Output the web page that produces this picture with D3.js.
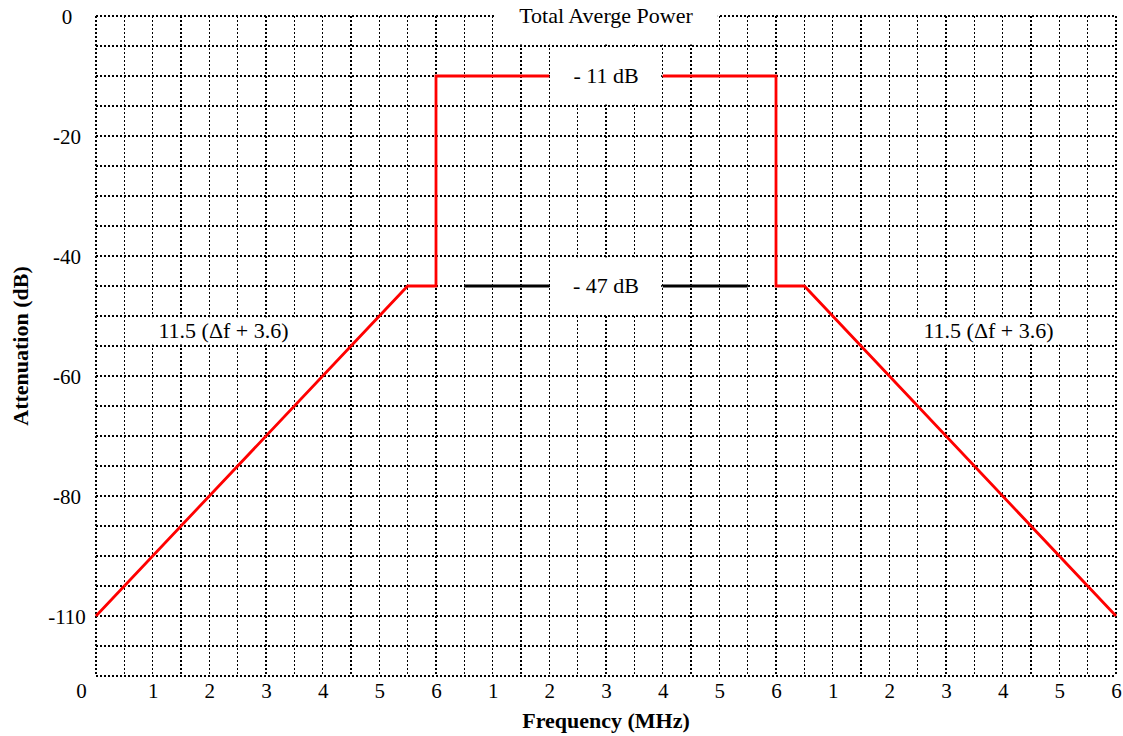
<!DOCTYPE html>
<html>
<head>
<meta charset="utf-8">
<script src="https://cdn.jsdelivr.net/npm/d3@7"></script>
<style>
  body { margin: 0; background: #fff; }
  svg text { font-family: "Liberation Serif", "DejaVu Serif", serif; fill: #000; }
</style>
</head>
<body>
<svg id="chart" width="1123" height="736" font-family="Liberation Serif, serif"></svg>
<script>
// --- datos del gráfico ---
const xTickValues = d3.range(0, 19);
const xTickLabels = ["0", "1", "2", "3", "4", "5", "6", "1", "2", "3", "4", "5", "6", "1", "2", "3", "4", "5", "6"];
const yTickValues = [0, -20, -40, -60, -80, -100];
const yTickLabels = ["0", "-20", "-40", "-60", "-80", "-110"];

// máscara roja (frecuencia, atenuación)
const maskLeft = [[0, -100], [5.5, -45], [6, -45], [6, -10], [8, -10]];
const maskRight = [[10, -10], [12, -10], [12, -45], [12.5, -45], [18, -100]];
// referencia negra a -47 dB
const refLeft = [[6.5, -45], [8, -45]];
const refRight = [[10, -45], [11.5, -45]];

// etiquetas con fondo blanco: [texto, x0, x1, y0, y1]
const labels = [
  ["Total Averge Power", 7, 11, 3, -5],
  ["- 11 dB", 8, 10, -5, -15],
  ["- 47 dB", 8, 10, -40, -50],
  ["11.5 (\u0394f + 3.6)", 0.5, 4, -50, -55],
  ["11.5 (\u0394f + 3.6)", 14, 17.5, -50, -55]
];

const svg = d3.select("#chart");
const margin = { left: 96, right: 1116, top: 16, bottom: 676 };

const x = d3.scaleLinear().domain([0, 18]).range([margin.left, margin.right]);
const y = d3.scaleLinear().domain([-110, 0]).range([margin.bottom, margin.top]);

// --- rejilla punteada ---
const grid = svg.append("g")
  .attr("stroke", "#000")
  .attr("stroke-width", 1.2)
  .attr("stroke-dasharray", "2,2")
  .attr("shape-rendering", "crispEdges");

grid.selectAll("line.v")
  .data(d3.range(0, 18.01, 0.5))
  .join("line")
  .attr("class", "v")
  .attr("x1", d => x(d)).attr("x2", d => x(d))
  .attr("y1", y(0)).attr("y2", y(-110));

grid.selectAll("line.h")
  .data(d3.range(0, -110.01, -5))
  .join("line")
  .attr("class", "h")
  .attr("x1", x(0)).attr("x2", x(18))
  .attr("y1", d => y(d)).attr("y2", d => y(d));

// fondos blancos de las etiquetas
svg.append("g").selectAll("rect")
  .data(labels)
  .join("rect")
  .attr("x", d => x(d[1]) + 1.5)
  .attr("width", d => x(d[2]) - x(d[1]) - 3)
  .attr("y", d => y(d[3]) + 1.5)
  .attr("height", d => y(d[4]) - y(d[3]) - 3)
  .attr("fill", "#fff");

// --- líneas ---
const line = d3.line().x(d => x(d[0])).y(d => y(d[1]));

svg.append("g").selectAll("path")
  .data([refLeft, refRight])
  .join("path")
  .attr("d", line)
  .attr("fill", "none")
  .attr("stroke", "#000")
  .attr("stroke-width", 2.8);

svg.append("g").selectAll("path")
  .data([maskLeft, maskRight])
  .join("path")
  .attr("d", line)
  .attr("fill", "none")
  .attr("stroke", "#ff0000")
  .attr("stroke-width", 2.8)
  .attr("stroke-linejoin", "miter");

// textos de las etiquetas
svg.append("g").selectAll("text")
  .data(labels)
  .join("text")
  .attr("x", d => x((d[1] + d[2]) / 2))
  .attr("y", d => d[0].startsWith("Total") ? y(0) + 7 : (y(d[3]) + y(d[4])) / 2 + 7)
  .attr("text-anchor", "middle")
  .attr("font-size", 22)
  .text(d => d[0]);

// --- ejes ---
const xAxis = svg.append("g")
  .attr("transform", `translate(0,${margin.bottom})`)
  .call(d3.axisBottom(x).tickValues(xTickValues).tickFormat((d, i) => xTickLabels[i]).tickSize(0).tickPadding(0));
xAxis.select(".domain").remove();
xAxis.selectAll("text")
  .attr("font-size", 21)
  .attr("dy", null)
  .attr("y", 22)
  .attr("dx", (d, i) => i === 0 ? -15 : 0);

const yAxis = svg.append("g")
  .attr("transform", `translate(${margin.left},0)`)
  .call(d3.axisLeft(y).tickValues(yTickValues).tickFormat((d, i) => yTickLabels[i]).tickSize(0));
yAxis.select(".domain").remove();
yAxis.selectAll("text")
  .attr("font-size", 21)
  .attr("text-anchor", "middle")
  .attr("x", -29)
  .attr("dy", null)
  .attr("y", 7);

svg.selectAll(".tick text").attr("fill", "#000");
xAxis.attr("font-family", null);
yAxis.attr("font-family", null);

// títulos de ejes
svg.append("text")
  .attr("x", x(9))
  .attr("y", 728)
  .attr("text-anchor", "middle")
  .attr("font-size", 22)
  .attr("font-weight", "bold")
  .text("Frequency (MHz)");

svg.append("text")
  .attr("transform", `translate(28,${(y(0) + y(-110)) / 2}) rotate(-90)`)
  .attr("text-anchor", "middle")
  .attr("font-size", 22)
  .attr("font-weight", "bold")
  .text("Attenuation (dB)");
</script>
</body>
</html>
